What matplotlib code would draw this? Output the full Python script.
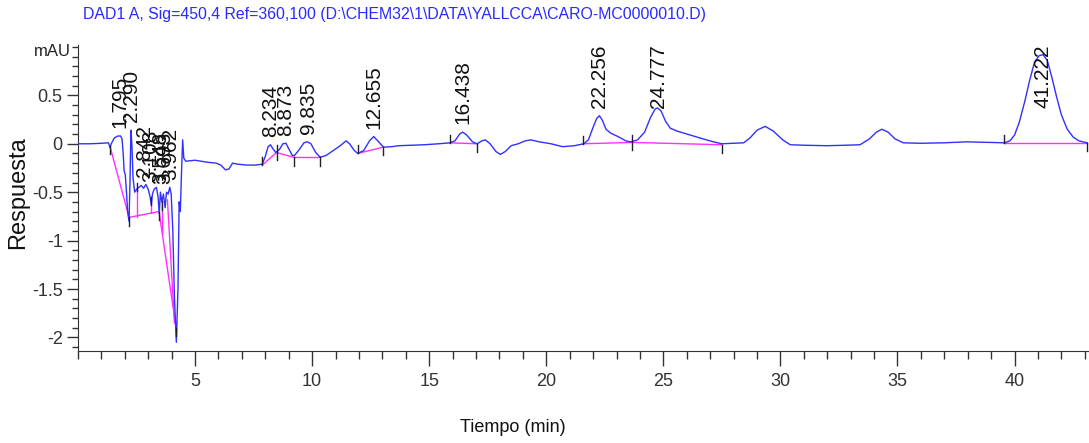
import numpy as np
import matplotlib
matplotlib.use('Agg')
import matplotlib.pyplot as plt
from matplotlib.ticker import MultipleLocator

t = [0.0, 0.5, 1.0, 1.3, 1.37, 1.42, 1.55, 1.7, 1.82, 1.88, 1.93, 1.97, 2.02, 2.07,
     2.12, 2.18, 2.22, 2.26, 2.30, 2.35, 2.42, 2.5, 2.6, 2.7, 2.8, 2.9, 3.0, 3.08,
     3.13, 3.18, 3.25, 3.35, 3.42, 3.47, 3.52, 3.58, 3.65, 3.72, 3.78, 3.85, 3.92,
     3.98, 4.05, 4.12, 4.2, 4.27, 4.32, 4.37, 4.42, 4.47, 4.52, 4.6, 5.0, 5.5, 5.9,
     6.1, 6.3, 6.45, 6.6, 6.8, 7.2, 7.6, 7.87, 8.0, 8.12, 8.22, 8.32, 8.45, 8.6,
     8.75, 8.88, 9.0, 9.15, 9.25, 9.45, 9.65, 9.8, 9.95, 10.15, 10.35, 10.6, 10.9,
     11.2, 11.45, 11.6, 11.8, 11.95, 12.2, 12.45, 12.63, 12.8, 13.05, 13.4, 13.7,
     14.2, 14.8, 15.4, 15.88, 16.1, 16.3, 16.43, 16.6, 16.85, 17.05, 17.25, 17.4,
     17.6, 17.85, 18.04, 18.25, 18.5, 18.8, 19.1, 19.35, 19.7, 20.2, 20.7, 21.2,
     21.6, 21.8, 22.0, 22.15, 22.27, 22.4, 22.55, 22.75, 23.1, 23.4, 23.6, 23.9,
     24.2, 24.45, 24.65, 24.75, 24.9, 25.1, 25.3, 25.6, 26.15, 26.7, 27.14, 27.5,
     28.0, 28.43, 28.7, 29.0, 29.35, 29.7, 30.1, 30.42, 31.0, 31.98, 32.8, 33.4,
     33.8, 34.1, 34.33, 34.6, 34.9, 35.25, 36.0, 37.0, 37.96, 38.8, 39.57, 39.8,
     40.0, 40.2, 40.45, 40.65, 40.85, 41.05, 41.22, 41.4, 41.6, 41.8, 42.0, 42.25,
     42.5, 42.75, 43.1]
resp = [0.0, 0.0, 0.005, 0.01, -0.04, 0.0, 0.06, 0.08, 0.08, 0.05, -0.1, -0.28, -0.32, -0.5,
        -0.7, -0.80, -0.4, 0.14, 0.0, -0.35, -0.5, -0.47, -0.45, -0.43, -0.46, -0.42, -0.47, -0.55,
        -0.63, -0.52, -0.47, -0.45, -0.55, -0.72, -0.5, -0.60, -0.52, -0.66, -0.5, -0.52, -0.45,
        -0.52, -0.9, -1.6, -2.05, -1.5, -0.6, -0.7, -0.3, 0.04, -0.15, -0.18, -0.17, -0.19, -0.2,
        -0.22, -0.27, -0.26, -0.2, -0.21, -0.22, -0.22, -0.21, -0.13, -0.03, -0.01, -0.05, -0.09, -0.06,
        0.0, 0.005, -0.05, -0.12, -0.12, -0.06, 0.01, 0.02, 0.0, -0.09, -0.14, -0.12, -0.07,
        -0.02, 0.03, 0.0, -0.07, -0.10, -0.07, 0.03, 0.075, 0.03, -0.035, -0.03, -0.02,
        -0.015, -0.01, 0.0, 0.01, 0.03, 0.1, 0.12, 0.09, 0.02, 0.0, 0.03, 0.04,
        0.0, -0.08, -0.11, -0.08, -0.02, 0.0, 0.03, 0.04, 0.02, 0.0, -0.03, -0.02,
        0.0, 0.04, 0.17, 0.26, 0.29, 0.24, 0.15, 0.11, 0.07, 0.03, 0.02, 0.04,
        0.12, 0.27, 0.36, 0.37, 0.34, 0.23, 0.16, 0.13, 0.09, 0.05, 0.02, 0.0,
        0.005, 0.01, 0.06, 0.14, 0.18, 0.13, 0.04, -0.01, -0.015, -0.02, -0.015, -0.01,
        0.05, 0.12, 0.15, 0.12, 0.05, 0.01, 0.005, 0.01, 0.02, 0.015, 0.01, 0.03,
        0.09, 0.22, 0.45, 0.66, 0.84, 0.91, 0.92, 0.86, 0.68, 0.48, 0.3, 0.15,
        0.07, 0.03, 0.01]

# tiempos de retencion integrados
rt = [1.795, 2.290, 2.842, 3.108, 3.548, 3.693, 3.962, 8.234, 8.873, 9.835,
      12.655, 16.438, 22.256, 24.777, 41.222]

# lineas base de integracion (inicio -> fin)
base_t0 = [1.37, 2.18, 3.46, 3.82, 2.53, 3.13, 3.60, 7.87, 8.48, 9.22, 11.95, 15.88, 21.57, 23.66, 39.57]
base_v0 = [-0.03, -0.76, -0.70, -0.58, -0.48, -0.63, -0.60, -0.22, -0.09, -0.14, -0.10, 0.01, 0.0, 0.014, 0.01]
base_t1 = [2.18, 3.46, 4.19, 4.12, 2.53, 3.13, 3.62, 8.48, 9.22, 10.33, 13.03, 17.05, 23.66, 27.5, 43.1]
base_v1 = [-0.76, -0.70, -1.90, -1.85, -0.755, -0.72, -0.93, -0.09, -0.14, -0.14, -0.035, 0.0, 0.014, -0.01, 0.01]

# marcas de inicio/fin de pico (tiempo, nivel, sentido)
ev_t = [1.37, 2.18, 2.53, 3.13, 3.46, 3.58, 4.20, 7.87, 8.48, 9.22, 10.33, 11.95,
        13.03, 15.88, 17.05, 21.57, 23.66, 27.5, 39.57, 43.1]
ev_v = [-0.02, -0.76, -0.49, -0.63, -0.70, -0.68, -1.90, -0.22, -0.09, -0.14, -0.14, -0.10,
        -0.035, 0.01, 0.0, 0.0, 0.014, -0.01, 0.01, 0.01]
ev_dir = [-1, -1, 1, 1, -1, 1, -1, 1, 0, -1, -1, 1, -1, 1, -1, 1, 0, -1, 1, -1]

title = r'DAD1 A, Sig=450,4 Ref=360,100 (D:\CHEM32\1\DATA\YALLCCA\CARO-MC0000010.D)'

plt.rcParams['font.family'] = ['Liberation Sans', 'DejaVu Sans']


def grafica():
    fig = plt.figure(figsize=(10.89, 4.43), dpi=100)
    ax = fig.add_axes([78/1089, 1-351/443, 1-78/1089, (351-45)/443])

    ts = np.array(t)
    rs = np.array(resp)
    ax.plot(ts, rs, color='#3030ff', lw=1.0, zorder=3)

    # lineas base
    for a, va, b, vb in zip(base_t0, base_v0, base_t1, base_v1):
        ax.plot([a, b], [va, vb], color='#ff30ff', lw=1.0, zorder=2)

    # marcas
    L = 0.085
    for x, v, d in zip(ev_t, ev_v, ev_dir):
        if d == 0:
            y0, y1 = v - 0.08, v + 0.08
        elif d > 0:
            y0, y1 = v, v + L
        else:
            y0, y1 = v - L, v
        ax.plot([x, x], [y0, y1], color='#202020', lw=1.0, zorder=4)

    # etiquetas de los picos
    for r in rt:
        m = (ts >= r-0.12) & (ts <= r+0.12)
        top = rs[m].max() if m.any() else np.interp(r, ts, rs)
        y = min(top + 0.08, 0.37)
        ax.text(r, y, '%.3f' % r, rotation=90, ha='center', va='bottom',
                fontsize=15, color='#111111', zorder=5)

    ax.set_xlim(0, 43.18)
    ax.set_ylim(-2.14, 1.02)
    ax.spines['top'].set_visible(False)
    ax.spines['right'].set_visible(False)
    ax.spines['left'].set_color('#333333')
    ax.spines['bottom'].set_color('#333333')

    ax.set_xticks(np.arange(5, 45, 5))
    ax.set_xticklabels([str(v) for v in range(5, 45, 5)])
    ax.xaxis.set_minor_locator(MultipleLocator(1))
    ax.set_yticks([-2, -1.5, -1, -0.5, 0, 0.5])
    ax.set_yticklabels(['-2', '-1.5', '-1', '-0.5', '0', '0.5'])
    ax.yaxis.set_minor_locator(MultipleLocator(0.1))
    ax.tick_params(axis='x', which='major', length=11, width=1, pad=5, labelsize=13, colors='#333333')
    ax.tick_params(axis='x', which='minor', length=6, width=1, colors='#333333')
    ax.tick_params(axis='y', which='major', length=8, width=1, pad=3, labelsize=13, colors='#333333')
    ax.tick_params(axis='y', which='minor', length=4, width=1, colors='#333333')

    ax.text(-0.3, 0.955, 'mAU', ha='right', va='center', fontsize=12, color='#222222')

    fig.text(83/1089, 1-15/443, title, ha='left', va='center', fontsize=11.4, color='#2a2aff')
    fig.text(18/1089, 1-193/443, 'Respuesta', rotation=90, ha='center', va='center',
             fontsize=17, color='#111111')
    fig.text(513/1089, 1-428/443, 'Tiempo (min)', ha='center', va='center', fontsize=13, color='#111111')

    fig.savefig('out.png', dpi=100)
    return fig


def main():
    grafica()


if __name__ == "__main__": main()
